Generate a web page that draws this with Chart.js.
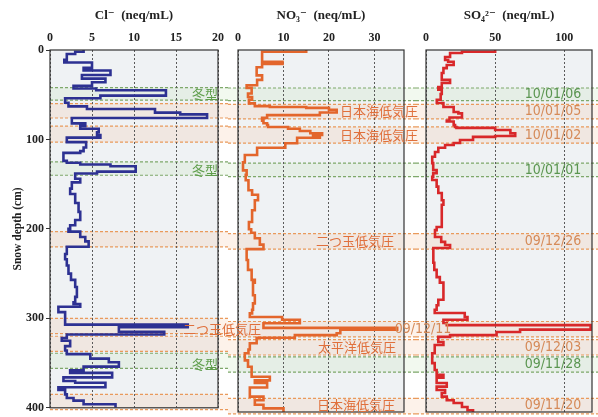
<!DOCTYPE html>
<html>
<head>
<meta charset="utf-8">
<script src="https://cdn.jsdelivr.net/npm/chart.js@4"></script>
<style>
body { margin: 0; background: #fff; }
#wrap { position: relative; width: 598px; height: 417px; }
canvas { position: absolute; left: 0; top: 0; }
</style>
</head>
<body>
<div id="wrap">
  <canvas id="cl" width="598" height="417"></canvas>
  <canvas id="no3" width="598" height="417"></canvas>
  <canvas id="so4" width="598" height="417"></canvas>
</div>
<script>
// depth (cm) where each sample starts, and its value (neq/mL)
const clDepth = [0, 2, 4.4, 11, 14, 20, 23, 28, 32, 36, 40, 43, 45, 51, 54, 59, 63, 66, 70, 72, 76, 82, 85, 88, 92, 95, 98, 103, 109, 113, 115, 124, 126, 128, 130, 136, 138, 144, 148, 155, 161, 171, 181, 190, 196, 200, 203, 209, 214, 220, 228, 234, 241, 250, 257, 265, 276, 282, 284, 287, 293, 307, 310, 315, 318, 322, 325, 331, 336, 340, 345, 349, 354, 358, 361, 366, 370, 372, 377, 380, 385, 389, 392, 396];
const clValue = [4.0, 3.0, 2.0, 1.7, 5.0, 4.0, 7.2, 3.8, 6.6, 5.0, 2.8, 5.5, 13.8, 6.0, 1.8, 2.2, 4.4, 12.5, 15.5, 18.7, 2.6, 4.2, 3.6, 5.8, 5.6, 6.0, 2.0, 4.3, 4.0, 3.6, 1.6, 2.0, 3.6, 7.2, 10.2, 5.6, 3.0, 3.6, 2.6, 2.4, 3.0, 3.4, 3.6, 3.0, 2.4, 2.2, 3.6, 4.2, 4.6, 2.0, 1.8, 2.0, 2.2, 2.5, 3.0, 3.2, 3.0, 2.8, 3.6, 1.0, 1.8, 16.4, 8.2, 13.6, 2.0, 1.4, 2.4, 1.8, 2.0, 4.8, 7.0, 8.2, 4.0, 2.4, 7.4, 1.6, 3.0, 6.6, 1.0, 1.8, 2.0, 2.8, 4.0, 7.8];

const no3Depth = [0, 2, 13, 15.5, 19, 28, 33, 39, 42, 48, 52, 55, 59, 62, 63, 64, 66, 69, 72, 75, 78, 81, 83, 85, 87, 89.5, 92, 94, 96, 97, 103, 108, 116, 124, 133, 138, 144, 155, 160, 166, 177, 190, 198, 202, 208, 215, 220, 232, 243, 254, 257, 271, 280, 287, 291, 295, 298, 302, 307, 309, 313, 315, 318, 324, 331, 335, 343, 350, 361, 365, 368, 373, 383, 387, 392, 396];
const no3Value = [15, 5.3, 9.8, 5.3, 4.1, 5.3, 4.2, 1.9, 3.0, 2.2, 3.1, 2.4, 3.7, 7.0, 15, 20, 21.7, 18, 6.4, 5.3, 5.6, 6.4, 6.6, 11, 13.6, 15.9, 18.5, 16.5, 18, 13, 10.4, 4.2, 1.5, 1.1, 1.9, 1.7, 2.3, 3.1, 4.4, 3.7, 3.1, 2.4, 2.9, 3.7, 4.8, 5.6, 1.9, 2.2, 3.0, 3.7, 3.3, 3.7, 3.3, 3.1, 2.6, 9.7, 13.6, 5.6, 35, 22.5, 21.7, 12.5, 4.1, 2.6, 2.3, 1.5, 2.2, 3.0, 7.0, 3.7, 6.4, 2.6, 5.6, 3.7, 5.6, 10];

const so4Depth = [0, 2, 3.3, 7.7, 11, 13, 16.5, 20, 25.4, 33, 36.5, 41, 44, 48.6, 55, 58.5, 63, 68.5, 70, 74.6, 78, 79, 83, 85, 86, 88.4, 92, 95, 96, 99.4, 102.8, 105, 108, 112.7, 118, 125, 132.6, 136, 140, 143.6, 151, 158, 166, 171, 195.6, 199, 206.6, 212, 215.5, 218.8, 235, 243, 251, 257, 276, 282, 287, 290.6, 295, 298, 301.7, 304, 309, 311.6, 315, 317, 322.6, 326, 335, 346, 353.6, 359, 362, 368, 372, 375.7, 379, 383, 387, 390, 394.5, 398];
const so4Value = [50, 26, 17.4, 13.8, 16, 20, 15, 12.6, 11.4, 17.4, 11.4, 8.9, 11.4, 10.6, 7.8, 12.6, 20, 23.4, 26, 17, 15, 20, 21, 22, 50, 61, 64.5, 50, 34, 24.6, 20, 13.8, 8.9, 6.5, 4.5, 5.2, 7.7, 5.2, 4.5, 7.7, 8.9, 11.4, 12.6, 11.4, 7.7, 6.5, 11, 13.8, 17.4, 5.3, 6, 7.7, 10, 12.6, 8.9, 7.7, 6.3, 28, 30, 12.6, 15, 119, 68, 51, 17.4, 8.9, 12.6, 6.3, 4.5, 6.3, 7.7, 12.6, 7.7, 15, 7.7, 13.8, 11.4, 15, 20, 26, 30, 34];

// weather-event layers (cm)
const bandTop = [42, 60, 85, 125, 203, 300, 320, 339, 385];
const bandBottom = [56, 76, 103, 140, 220, 317, 337, 356, 402];
const bandKind = ['winter', 'low', 'low', 'winter', 'low', 'low', 'low', 'winter', 'low'];
const bandLabel = ['冬型', '日本海低気圧', '日本海低気圧', '冬型', '二つ玉低気圧', '二つ玉低気圧', '太平洋低気圧', '冬型', '日本海低気圧'];
const bandDate = ['10/01/06', '10/01/05', '10/01/02', '10/01/01', '09/12/26', '09/12/11', '09/12/03', '09/11/28', '09/11/20'];

// layout only: where the annotation texts sit (px)
const labelCenterX = [205, 379, 379, 205, 355, 222, 357, 205, 356];
const dateCenterX = [553, 553, 553, 553, 553, 423, 553, 553, 553];

const SERIF = "'Liberation Serif', 'DejaVu Serif', serif";
const COLORS = { low: '#e0703c', winter: '#5f9e4c' };
const DATE_COLORS = { low: '#d58a58', winter: '#5a9550' };

function profile(depths, values) {
  const pts = depths.map((d, i) => ({ x: values[i], y: d }));
  pts.push({ x: values[values.length - 1], y: 400 });
  return pts;
}

const panelPlugin = {
  id: 'panel',
  beforeDraw(chart, args, opts) {
    const { ctx, chartArea: a } = chart;
    const ys = chart.scales.y;
    ctx.save();
    ctx.fillStyle = '#eff2f4';
    ctx.fillRect(a.left, a.top, a.right - a.left, a.bottom - a.top);
    bandTop.forEach((t, i) => {
      const y1 = ys.getPixelForValue(t), y2 = ys.getPixelForValue(bandBottom[i]);
      ctx.fillStyle = bandKind[i] === 'low' ? 'rgba(245,185,140,0.18)' : 'rgba(185,220,165,0.18)';
      ctx.fillRect(opts.x0, y1, opts.x1 - opts.x0, y2 - y1);
      ctx.strokeStyle = bandKind[i] === 'low' ? '#e99a5c' : '#7ea86a';
      ctx.lineWidth = 1.2;
      ctx.setLineDash([3, 2]);
      [y1, y2].forEach(y => {
        ctx.beginPath();
        ctx.moveTo(opts.x0, y);
        ctx.lineTo(opts.x1, y);
        ctx.stroke();
      });
    });
    ctx.restore();
  },
  afterDatasetsDraw(chart, args, opts) {
    const { ctx, chartArea: a } = chart;
    const ys = chart.scales.y;
    ctx.save();
    ctx.strokeStyle = '#333';
    ctx.lineWidth = 1.2;
    ctx.strokeRect(a.left, a.top, a.right - a.left, a.bottom - a.top);
    if (opts.labels) {
      ctx.textAlign = 'center';
      ctx.textBaseline = 'middle';
      bandTop.forEach((t, i) => {
        const y = (ys.getPixelForValue(t) + ys.getPixelForValue(Math.min(bandBottom[i], 400))) / 2;
        ctx.fillStyle = COLORS[bandKind[i]];
        ctx.font = "13px 'Noto Sans CJK JP'";
        ctx.fillText(bandLabel[i], labelCenterX[i], y);
        ctx.fillStyle = DATE_COLORS[bandKind[i]];
        ctx.font = "14px 'Liberation Sans Narrow', 'DejaVu Sans Condensed', sans-serif";
        ctx.fillText(bandDate[i], dateCenterX[i], y);
      });
    }
    ctx.restore();
  }
};

function makeChart(id, cfg) {
  return new Chart(document.getElementById(id), {
    type: 'line',
    data: {
      datasets: [{
        data: cfg.data,
        borderColor: cfg.color,
        borderWidth: 2.6,
        pointRadius: 0,
        stepped: 'after',
        fill: false
      }]
    },
    options: {
      responsive: false,
      animation: false,
      layout: { padding: cfg.padding },
      plugins: {
        legend: { display: false },
        tooltip: { enabled: false },
        panel: { x0: cfg.x0, x1: cfg.x1, labels: cfg.labels }
      },
      scales: {
        x: {
          type: 'linear',
          position: 'top',
          min: 0,
          max: cfg.max,
          ticks: {
            stepSize: cfg.step,
            includeBounds: false,
            color: '#222',
            padding: 5,
            font: { family: SERIF, weight: 'bold', size: 12 }
          },
          grid: { color: '#5a5a5a', lineWidth: 1, drawTicks: false },
          border: { display: false, dash: [2, 2] },
          title: {
            display: true,
            text: cfg.title,
            color: '#222',
            padding: { top: 8, bottom: 4 },
            font: { family: SERIF, weight: 'bold', size: 13 }
          },
          afterFit(s) { s.height = 50; }
        },
        y: {
          type: 'linear',
          display: cfg.showY,
          reverse: true,
          min: 0,
          max: 400,
          ticks: {
            stepSize: 100,
            color: '#222',
            padding: 2,
            font: { family: SERIF, weight: 'bold', size: 12 }
          },
          grid: { drawOnChartArea: false, tickLength: 4, color: '#333' },
          border: { display: false },
          title: {
            display: true,
            text: 'Snow depth (cm)',
            color: '#222',
            padding: { top: 11, bottom: 0 },
            font: { family: SERIF, weight: 'bold', size: 11.5 }
          },
          afterFit(s) { if (cfg.showY) s.width = 50; }
        }
      }
    },
    plugins: [panelPlugin]
  });
}

makeChart('cl', {
  data: profile(clDepth, clValue), color: '#2d3192', max: 20, step: 5,
  title: 'Cl⁻  (neq/mL)', showY: true,
  padding: { left: 0, right: 380, top: 0, bottom: 5 },
  x0: 50, x1: 228, labels: false
});
makeChart('no3', {
  data: profile(no3Depth, no3Value), color: '#e3662c', max: 36.5, step: 10,
  title: 'NO₃⁻  (neq/mL)', showY: false,
  padding: { left: 238, right: 194, top: 0, bottom: 5 },
  x0: 228, x1: 416, labels: false
});
makeChart('so4', {
  data: profile(so4Depth, so4Value), color: '#d8282a', max: 120, step: 50,
  title: 'SO₄²⁻  (neq/mL)', showY: false,
  padding: { left: 426, right: 6, top: 0, bottom: 5 },
  x0: 416, x1: 598, labels: true
});
</script>
</body>
</html>
